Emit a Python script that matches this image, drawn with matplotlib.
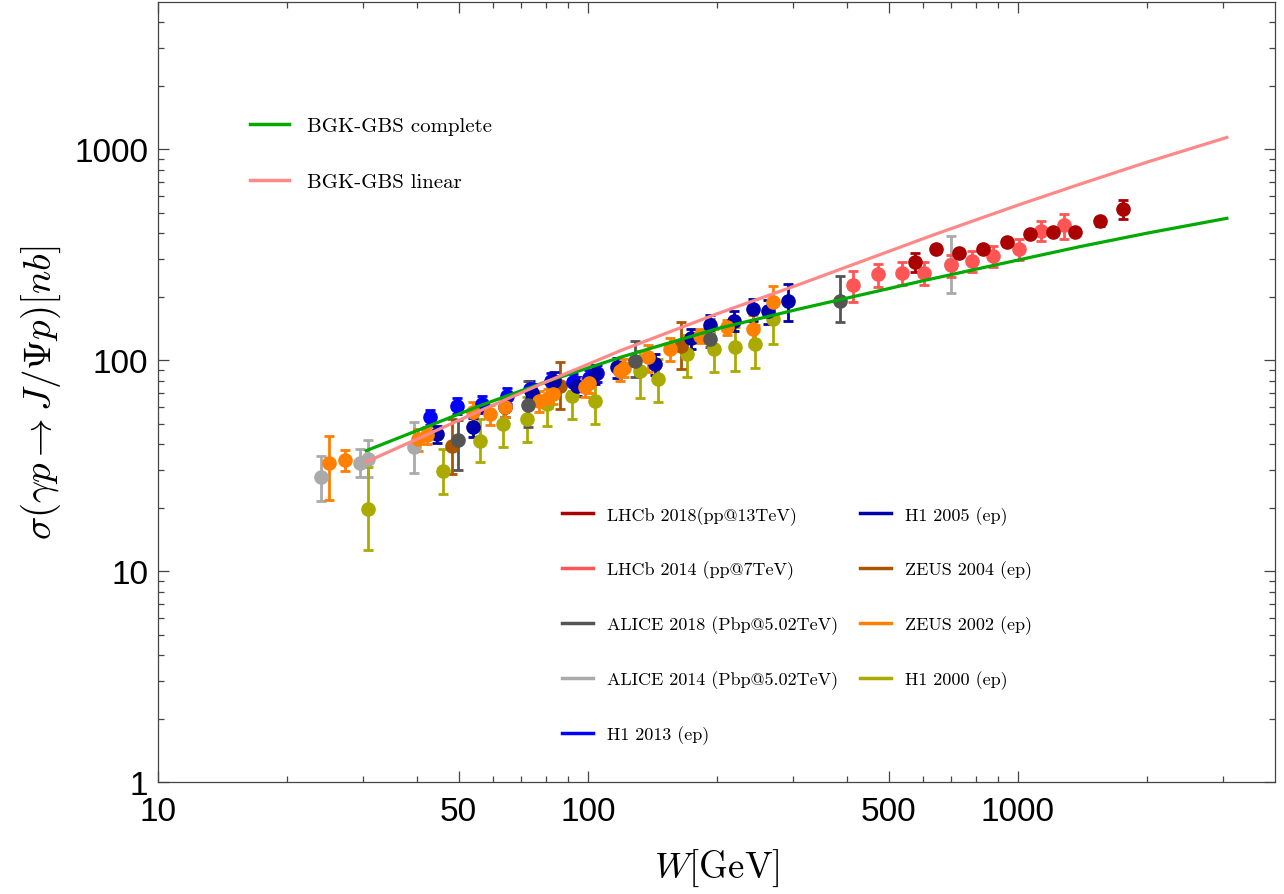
import matplotlib
matplotlib.use("Agg")
import matplotlib.pyplot as plt
from matplotlib.lines import Line2D
from matplotlib.ticker import FixedLocator, FixedFormatter, NullFormatter

plt.rcParams["mathtext.fontset"] = "cm"

# ================= DATA =================
# model curves
W_complete = [30.5, 56.1, 80, 118.8, 200, 311, 603, 1000, 1393, 2000, 3060]
sig_complete = [37.2, 60.8, 79, 103, 141, 175, 238, 298, 345, 400, 470]
W_linear = [30.5, 56.1, 80, 118.8, 200, 311, 631, 1000, 1393, 2000, 3060]
sig_linear = [32.9, 57.5, 78.9, 110.7, 166, 229, 390, 543, 682, 869, 1136]

# LHCb 2018 (pp@13TeV)
W_lhcb18 = [576, 644, 730, 830, 942, 1067, 1208, 1357, 1551, 1758]
sig_lhcb18 = [292, 336, 323, 337, 361, 395, 404, 403, 455, 522]
err_lhcb18 = [30, 12, 12, 12, 12, 12, 12, 12, 24, 55]

# LHCb 2014 (pp@7TeV)
W_lhcb14 = [414, 473, 536, 603, 697, 780, 876, 1005, 1129, 1281]
sig_lhcb14 = [226, 255, 260, 260, 281, 296, 312, 337, 410, 435]
err_lhcb14 = [38, 32, 33, 33, 33, 33, 35, 38, 45, 60]

# ALICE 2018 (Pbp@5.02TeV)
W_alice18 = [49.9, 72.6, 128.5, 192, 385]
sig_alice18 = [42.0, 61.0, 99.0, 126.0, 191.0]
lo_alice18 = [12, 13, 16, 11, 40]
hi_alice18 = [10, 18.5, 24.5, 30, 60]

# ALICE 2014 (Pbp@5.02TeV)
W_alice14 = [24.0, 29.5, 30.8, 39.3, 697]
sig_alice14 = [28.0, 32.5, 34.0, 38.6, 285]
lo_alice14 = [6.6, 4.5, 6.0, 9.5, 78]
hi_alice14 = [7.2, 5.5, 8.0, 12.1, 101]

# H1 2013 (ep)
W_h113 = [42.9, 49.5, 56.6, 64.7, 73.3, 82.0, 92.3, 100.5, 105.0]
sig_h113 = [53.5, 60.8, 61.9, 67.7, 72.9, 80.0, 78.7, 82.0, 87.0]
err_h113 = [4.5, 5, 5.5, 6, 6.5, 7, 7, 7.5, 8]

# H1 2005 (ep)
W_h105 = [44.5, 54.1, 64.1, 74.0, 83.5, 94.1, 104.0, 116.6, 143.0, 174.0,
          192.0, 218.0, 242.0, 262.0, 292.0]
sig_h105 = [44.6, 48.0, 59.7, 70.0, 80.0, 75.5, 86.0, 92.3, 96.0, 127.0,
            147.0, 154.0, 174.0, 171.0, 191.0]
err_h105 = [4, 5, 6, 7, 8, 8, 9, 10, 11, 14, 16, 17, 20, 22, 38]

# ZEUS 2004 (ep)
W_zeus04 = [48.2, 86.1, 165.0]
sig_zeus04 = [39.3, 75.5, 117.0]
lo_zeus04 = [10.3, 17, 26]
hi_zeus04 = [13, 22.5, 35]

# ZEUS 2002 (ep)
W_zeus02 = [25.0, 27.3, 40.3, 42.2, 54.1, 59.2, 64.1, 77.0, 80.7, 83.0,
            98.4, 100.5, 118.6, 121.0, 138.0, 155.0, 182.0, 210.0, 242.0, 270.0]
sig_zeus02 = [32.7, 33.6, 42.2, 44.0, 57.0, 55.5, 59.8, 64.0, 66.0, 69.0,
              74.5, 78.0, 88.7, 92.0, 103.0, 113.0, 130.0, 143.0, 140.0, 188.0]
err_zeus02 = [11, 3.8, 5, 4, 6, 6, 6, 7, 7, 7, 8, 8, 9, 9, 15, 14, 10, 12, 23, 37]

# H1 2000 (ep)
W_h100 = [30.8, 46.1, 56.1, 63.6, 72.0, 80.2, 91.6, 103.8, 132.0, 145.7,
          170.0, 196.0, 220.0, 245.0, 270.0]
sig_h100 = [19.7, 29.9, 41.5, 49.7, 52.5, 61.9, 67.7, 64.1, 88.9, 81.3,
            107.0, 113.0, 115.0, 119.0, 156.0]
lo_h100 = [7.1, 6.7, 8.6, 11.1, 11.6, 13, 15, 14.4, 23, 18, 24, 25, 26, 27, 37]
hi_h100 = [11.4, 8, 11, 14.6, 14.2, 16, 18, 17, 21, 20, 25, 27, 28, 28, 35]

x_major = [10, 50, 100, 500, 1000]
x_labels = ["10", "50", "100", "500", "1000"]
x_minor = [20, 30, 40, 60, 70, 80, 90, 200, 300, 400, 600, 700, 800, 900,
           2000, 3000]
y_major = [1, 10, 100, 1000]
y_labels = ["1", "10", "100", "1000"]
y_minor = [m * d for d in (1, 10, 100) for m in range(2, 10)] + [2000, 3000, 4000]

# ================= STYLE =================
C_GREEN = "#00aa00"
C_PINK = "#ff8888"
C_LHCB18 = "#aa0000"
C_LHCB14 = "#ff5555"
C_ALICE18 = "#555555"
C_ALICE14 = "#aaaaaa"
C_H113 = "#0000ff"
C_H105 = "#0000aa"
C_ZEUS04 = "#aa5500"
C_ZEUS02 = "#ff8000"
C_H100 = "#aaaa00"
TXT_FONT = ["cmr10", "DejaVu Serif"]
TICK_FONT = "Liberation Sans"

fig = plt.figure(figsize=(12.84, 8.95), dpi=100)
ax = fig.add_axes([0.123, 0.1251, 0.870, 0.8715])
ax.set_xscale("log")
ax.set_yscale("log")
ax.set_xlim(10, 3960)
ax.set_ylim(1, 4980)

eb = dict(fmt="o", ms=9.5, elinewidth=2.0, capsize=3.8, capthick=2.0, zorder=3)


def sym(e):
    return [e, e]


ax.errorbar(W_alice14, sig_alice14, yerr=[lo_alice14, hi_alice14], color=C_ALICE14, **eb)
ax.errorbar(W_h100, sig_h100, yerr=[lo_h100, hi_h100], color=C_H100, **eb)
ax.errorbar(W_zeus04, sig_zeus04, yerr=[lo_zeus04, hi_zeus04], color=C_ZEUS04, **eb)
ax.errorbar(W_h113, sig_h113, yerr=sym(err_h113), color=C_H113, **eb)
ax.errorbar(W_h105, sig_h105, yerr=sym(err_h105), color=C_H105, **eb)
ax.errorbar(W_zeus02, sig_zeus02, yerr=sym(err_zeus02), color=C_ZEUS02, **eb)
ax.errorbar(W_alice18, sig_alice18, yerr=[lo_alice18, hi_alice18], color=C_ALICE18, **eb)
ax.errorbar(W_lhcb14, sig_lhcb14, yerr=sym(err_lhcb14), color=C_LHCB14, **eb)
ax.errorbar(W_lhcb18, sig_lhcb18, yerr=sym(err_lhcb18), color=C_LHCB18, **eb)

ax.plot(W_complete, sig_complete, color=C_GREEN, lw=2.3, zorder=4)
ax.plot(W_linear, sig_linear, color=C_PINK, lw=2.3, zorder=4)

# --- ticks, Mathematica-like frame ---
ax.xaxis.set_major_locator(FixedLocator(x_major))
ax.xaxis.set_major_formatter(FixedFormatter(x_labels))
ax.xaxis.set_minor_locator(FixedLocator(x_minor))
ax.xaxis.set_minor_formatter(NullFormatter())
ax.yaxis.set_major_locator(FixedLocator(y_major))
ax.yaxis.set_major_formatter(FixedFormatter(y_labels))
ax.yaxis.set_minor_locator(FixedLocator(y_minor))
ax.yaxis.set_minor_formatter(NullFormatter())
ax.tick_params(which="both", direction="in", top=True, right=True,
               color="#444444", width=0.9)
ax.tick_params(which="major", length=8, labelsize=24, pad=7)
ax.tick_params(axis="x", which="major", pad=10)
ax.tick_params(which="minor", length=4.3)
for lab in ax.get_xticklabels() + ax.get_yticklabels():
    lab.set_fontfamily(TICK_FONT)
for spine in ax.spines.values():
    spine.set_color("#444444")
    spine.set_linewidth(0.9)

ax.set_xlabel(r"$W[\mathrm{GeV}]$", fontsize=26.5, labelpad=14)
ax.set_ylabel(r"$\sigma(\gamma p\rightarrow J/\Psi p)[nb]$", fontsize=28, labelpad=8)

# --- legends ---
model_handles = [Line2D([], [], color=C_GREEN, lw=2.5),
                 Line2D([], [], color=C_PINK, lw=2.5)]
leg1 = ax.legend(model_handles, ["BGK-GBS complete", "BGK-GBS linear"],
                 loc="upper left", bbox_to_anchor=(0.082, 0.853),
                 frameon=False, borderpad=0, borderaxespad=0,
                 handlelength=1.9, handletextpad=0.85, labelspacing=1.8,
                 prop={"family": TXT_FONT, "size": 15})
ax.add_artist(leg1)

data_labels = ["LHCb 2018(pp@13TeV)", "LHCb 2014 (pp@7TeV)",
               "ALICE 2018 (Pbp@5.02TeV)", "ALICE 2014 (Pbp@5.02TeV)",
               "H1 2013 (ep)", "H1 2005 (ep)", "ZEUS 2004 (ep)",
               "ZEUS 2002 (ep)", "H1 2000 (ep)"]
data_colors = [C_LHCB18, C_LHCB14, C_ALICE18, C_ALICE14, C_H113,
               C_H105, C_ZEUS04, C_ZEUS02, C_H100]
data_handles = [Line2D([], [], color=c, lw=2.5) for c in data_colors]
ax.legend(data_handles, data_labels, ncol=2, loc="upper left",
          bbox_to_anchor=(0.3617, 0.354), frameon=False, borderpad=0,
          borderaxespad=0, handlelength=1.7, handletextpad=0.8,
          labelspacing=2.0, columnspacing=1.2,
          prop={"family": TXT_FONT, "size": 13})

fig.savefig("out.png", dpi=100, facecolor="white")
